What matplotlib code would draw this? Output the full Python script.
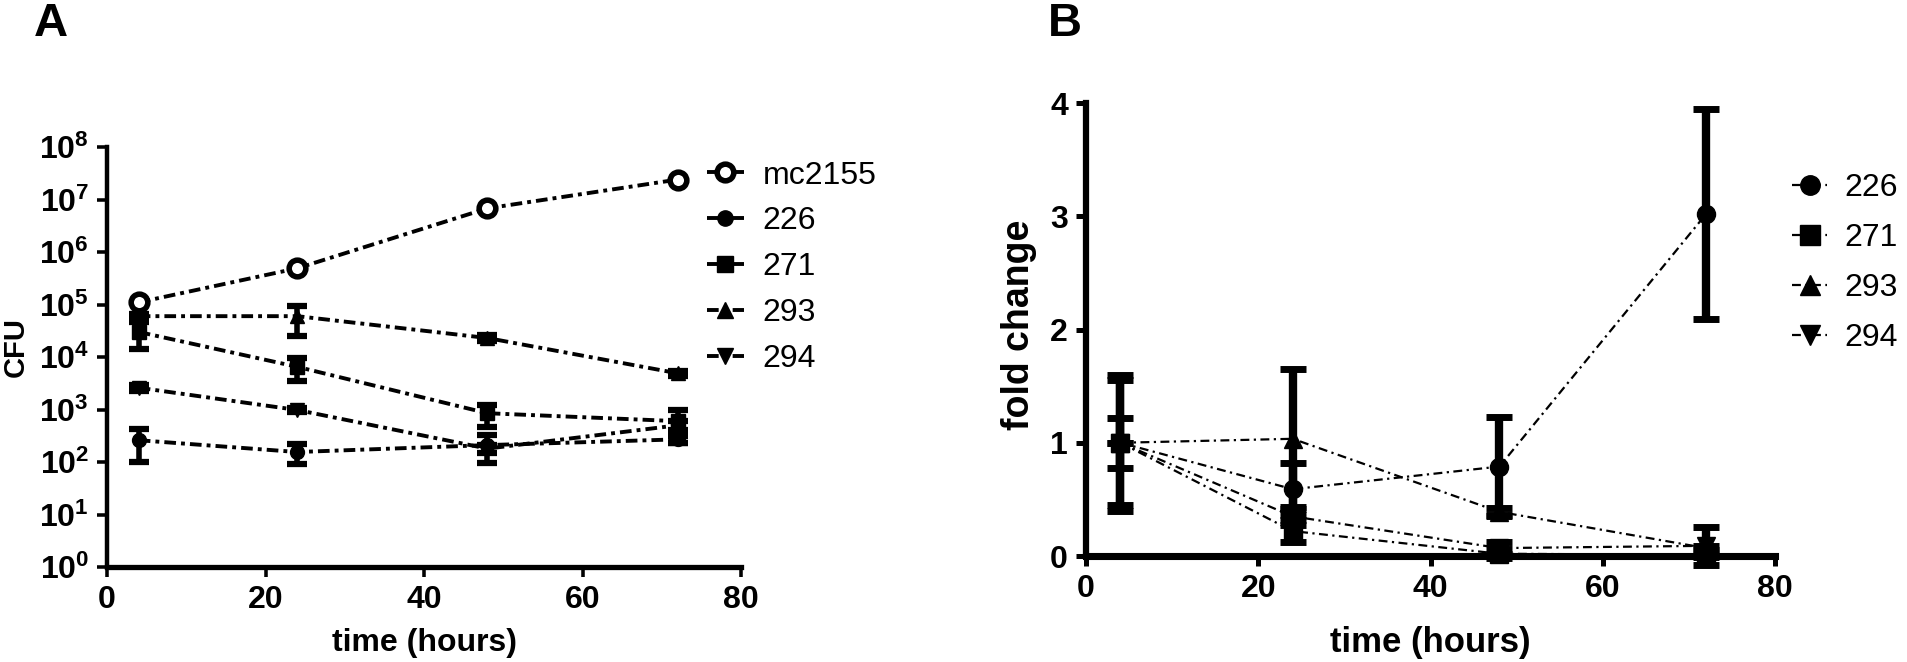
import matplotlib
matplotlib.use('Agg')
import matplotlib.pyplot as plt
from matplotlib import font_manager
from matplotlib.lines import Line2D
from matplotlib.ticker import FixedLocator, NullLocator

# narrow bold face for ticks and x labels, like the GraphPad export
names = {f.name for f in font_manager.fontManager.ttflist}
narrow = 'Liberation Sans Narrow' if 'Liberation Sans Narrow' in names else 'Liberation Sans'
plt.rcParams['font.family'] = [narrow, 'Liberation Sans', 'DejaVu Sans']
plt.rcParams['mathtext.fontset'] = 'custom'
plt.rcParams['mathtext.rm'] = narrow + ':bold'
plt.rcParams['mathtext.bf'] = narrow + ':bold'

time = [4, 24, 48, 72]

# panel A: CFU
cfu_strains = ['mc2155', '226', '271', '293', '294']
cfu_mc2155 = [1.1e5, 4.9e5, 6.8e6, 2.4e7]
cfu_226 = [2.6e2, 1.55e2, 2.1e2, 2.7e2]
cfu_271 = [3.0e4, 6.5e3, 8.5e2, 6.0e2]
cfu_293 = [6.0e4, 6.0e4, 2.3e4, 4.9e3]
cfu_294 = [2.6e3, 9.8e2, 1.8e2, 5.0e2]
err_226 = [1.6e2, 65, 1.15e2, 40]
err_271 = [1.6e4, 3.0e3, 3.8e2, 3.7e2]
err_293 = [5.0e3, 3.5e4, 3.0e3, 5.0e2]
err_294 = [3.0e2, 1.0e2, 30, 1.0e2]

# panel B: fold change
fold_strains = ['226', '271', '293', '294']
fold_226 = [1.0, 0.59, 0.79, 3.02]
fold_271 = [1.0, 0.22, 0.02, 0.01]
fold_293 = [1.0, 1.035, 0.39, 0.07]
fold_294 = [1.0, 0.35, 0.07, 0.09]
ferr_226 = [0.60, 0.23, 0.44, 0.93]
ferr_271 = [0.0, 0.10, 0.04, 0.02]
ferr_293 = [0.22, 0.62, 0.03, 0.02]
ferr_294 = [0.55, 0.08, 0.05, 0.17]

markers = {'mc2155': 'o', '226': 'o', '271': 's', '293': '^', '294': 'v'}

fig = plt.figure(figsize=(19.08, 6.62), dpi=100)
axA = fig.add_axes([0.0561, 0.1435, 0.3323, 0.6344])
axB = fig.add_axes([0.5692, 0.1601, 0.3611, 0.6843])

dashA = (0, (3.0, 1.3, 1.0, 1.3))
dashB = (0, (4.0, 2.0, 1.0, 2.0))

# ---- A ----
seriesA = [cfu_mc2155, cfu_226, cfu_271, cfu_293, cfu_294]
errsA = [None, err_226, err_271, err_293, err_294]
for name, vals, err in zip(cfu_strains, seriesA, errsA):
    axA.plot(time, vals, color='black', lw=2.8, linestyle=dashA, zorder=2)
    if err is not None:
        axA.errorbar(time, vals, yerr=err, fmt='none', ecolor='black',
                     elinewidth=4.0, capsize=7, capthick=4.5, zorder=3)
    if name == 'mc2155':
        axA.plot(time, vals, 'o', ms=12, mfc='white', mec='black', mew=4,
                 zorder=4, clip_on=False)
    else:
        axA.plot(time, vals, markers[name], ms=10, color='black', zorder=4,
                 clip_on=False)

axA.set_yscale('log')
axA.set_ylim(1, 1e8)
axA.set_xlim(0, 80)
axA.yaxis.set_major_locator(FixedLocator([10.0 ** k for k in range(9)]))
axA.yaxis.set_minor_locator(NullLocator())
axA.set_yticklabels([r'$\mathbf{10^{%d}}$' % k for k in range(9)])
axA.set_xticks([0, 20, 40, 60, 80])
axA.set_ylabel('CFU', fontsize=21, fontweight='bold', family='Liberation Sans',
               va='center')
axA.yaxis.set_label_coords(-0.1435, 0.524)
axA.set_xlabel('time (hours)', fontsize=23, fontweight='bold', va='center')
axA.xaxis.set_label_coords(0.5, -0.181)

legA = [Line2D([0], [0], color='black', lw=2.8, linestyle=dashA,
               marker=markers[n], ms=(12 if n == 'mc2155' else 11),
               mfc=('white' if n == 'mc2155' else 'black'), mec='black',
               mew=(4 if n == 'mc2155' else 1)) for n in cfu_strains]
fig.legend(legA, cfu_strains, loc='center left', bbox_to_anchor=(0.3705, 0.596),
           frameon=False, prop={'family': 'Liberation Sans', 'size': 23},
           handlelength=1.15, handletextpad=0.6, labelspacing=0.5,
           borderpad=0, borderaxespad=0)

# ---- B ----
seriesB = [fold_226, fold_271, fold_293, fold_294]
errsB = [ferr_226, ferr_271, ferr_293, ferr_294]
for name, vals, err in zip(fold_strains, seriesB, errsB):
    axB.plot(time, vals, color='black', lw=1.6, linestyle=dashB, zorder=2)
    axB.errorbar(time, vals, yerr=err, fmt='none', ecolor='black',
                 elinewidth=6, capsize=9.5, capthick=5, zorder=3, clip_on=False)
    axB.plot(time, vals, markers[name], ms=13, color='black', zorder=4,
             clip_on=False)

axB.set_ylim(0, 4)
axB.set_xlim(0, 80)
axB.set_yticks([0, 1, 2, 3, 4])
axB.set_xticks([0, 20, 40, 60, 80])
axB.set_ylabel('fold change', fontsize=27, fontweight='bold',
               family='Liberation Sans', va='center')
axB.yaxis.set_label_coords(-0.097, 0.51)
axB.set_xlabel('time (hours)', fontsize=25, fontweight='bold', va='center')
axB.xaxis.set_label_coords(0.5, -0.192)

legB = [Line2D([0], [0], color='black', lw=1.6, linestyle=dashB,
               marker=markers[n], ms=14) for n in fold_strains]
fig.legend(legB, fold_strains, loc='center left', bbox_to_anchor=(0.9392, 0.6027),
           frameon=False, prop={'family': 'Liberation Sans', 'size': 23},
           handlelength=1.1, handletextpad=0.55, labelspacing=0.62,
           borderpad=0, borderaxespad=0)

for ax, lw in ((axA, 3.2), (axB, 4.5)):
    ax.spines['top'].set_visible(False)
    ax.spines['right'].set_visible(False)
    ax.spines['left'].set_linewidth(lw)
    ax.spines['bottom'].set_linewidth(lw + 0.6)
    ax.tick_params(direction='out', length=7, width=lw * 0.8, pad=6,
                   labelsize=23)
    for lab in ax.get_xticklabels() + ax.get_yticklabels():
        lab.set_fontweight('bold')

fig.text(51 / 1908, 1 - 24 / 662, 'A', fontsize=34, fontweight='bold',
         family='Liberation Sans', ha='center', va='center')
fig.text(1065 / 1908, 1 - 24 / 662, 'B', fontsize=34, fontweight='bold',
         family='Liberation Sans', ha='center', va='center')

fig.savefig('out.png', dpi=100)
